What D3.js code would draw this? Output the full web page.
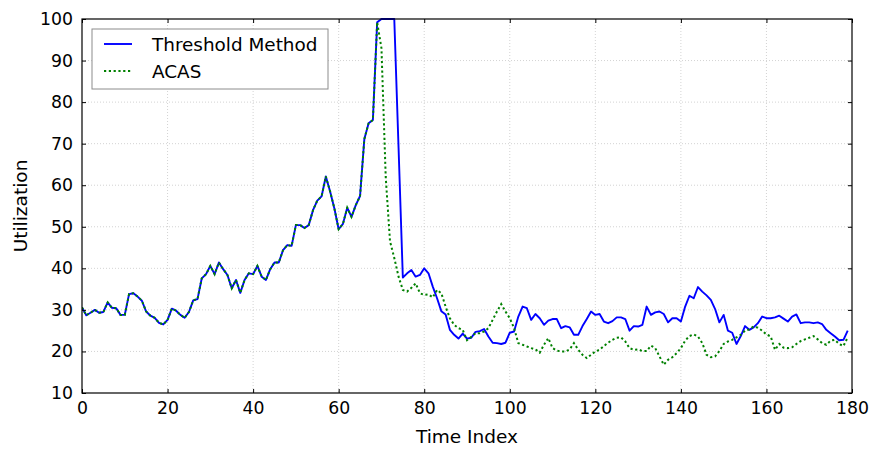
<!DOCTYPE html>
<html><head><meta charset="utf-8">
<script src="https://cdn.jsdelivr.net/npm/d3@7"></script>
<style>
body{margin:0;background:#fff}
svg{display:block}
text{font-family:"DejaVu Sans",sans-serif;fill:#000}
</style>
</head><body>
<svg id="chart" width="870" height="450"></svg>
<script>
const xTicks = [0, 20, 40, 60, 80, 100, 120, 140, 160, 180];
const yTicks = [10, 20, 30, 40, 50, 60, 70, 80, 90, 100];
const seriesNames = ["Threshold Method", "ACAS"];
const xLabel = "Time Index";
const yLabel = "Utilization";

const threshold = [
  30.6, 28.7, 29.3, 30.0, 29.3, 29.5, 31.8, 30.5, 30.4, 28.8,
  28.8, 33.8, 34.0, 33.2, 32.2, 29.6, 28.6, 28.1, 26.9, 26.5,
  27.6, 30.3, 29.8, 28.8, 28.1, 29.5, 32.3, 32.6, 37.6, 38.6,
  40.6, 38.6, 41.4, 39.8, 38.4, 35.2, 37.2, 34.1, 37.2, 38.8,
  38.6, 40.6, 38.0, 37.2, 39.8, 41.4, 41.4, 44.4, 45.6, 45.4,
  50.4, 50.4, 49.7, 50.4, 54.0, 56.3, 57.3, 62.1, 58.5, 54.4,
  49.4, 50.7, 54.6, 52.4, 55.2, 57.4, 71.1, 74.9, 75.7, 99.2,
  100, 100, 100, 100, 69.0, 37.8, 38.8, 39.6, 38.0, 38.4,
  40.0, 38.8, 35.6, 32.8, 29.7, 28.9, 25.2, 24.0, 23.1, 24.3,
  23.1, 23.3, 24.7, 24.9, 25.4, 23.6, 22.1, 22.0, 21.8, 22.1,
  24.5, 24.8, 28.4, 30.8, 30.4, 27.6, 29.0, 28.0, 26.4, 27.4,
  27.8, 27.8, 25.6, 26.1, 25.8, 24.0, 24.0, 26.1, 27.8, 29.6,
  28.8, 29.0, 27.2, 26.8, 27.3, 28.2, 28.2, 27.8, 25.0, 26.1,
  26.0, 26.4, 30.8, 28.8, 29.4, 29.6, 29.0, 27.0, 28.0, 28.0,
  27.2, 30.8, 33.4, 32.8, 35.5, 34.4, 33.5, 32.4, 30.2, 27.0,
  28.8, 25.0, 24.5, 21.8, 23.7, 26.1, 25.2, 25.8, 26.8, 28.4,
  28.0, 28.0, 28.2, 28.6, 27.9, 27.2, 28.4, 28.9, 26.8, 27.0,
  27.0, 26.8, 27.0, 26.6, 25.2, 24.4, 23.6, 22.7, 22.8, 25.0
];

const acas = [
  30.6, 28.7, 29.3, 30.0, 29.3, 29.5, 31.8, 30.5, 30.4, 28.8,
  28.8, 33.8, 34.0, 33.2, 32.2, 29.6, 28.6, 28.1, 26.9, 26.5,
  27.6, 30.3, 29.8, 28.8, 28.1, 29.5, 32.3, 32.6, 37.6, 38.6,
  40.6, 38.6, 41.4, 39.8, 38.4, 35.2, 37.2, 34.1, 37.2, 38.8,
  38.6, 40.6, 38.0, 37.2, 39.8, 41.4, 41.4, 44.4, 45.6, 45.4,
  50.4, 50.4, 49.7, 50.4, 54.0, 56.3, 57.3, 62.1, 58.5, 54.4,
  49.4, 50.7, 54.6, 52.4, 55.2, 57.4, 71.1, 74.9, 75.7, 99.2,
  93.0, 62.0, 46.5, 42.5, 38.0, 34.8, 34.4, 35.3, 36.4, 34.0,
  33.6, 33.7, 33.0, 34.8, 34.0, 30.8, 28.0, 26.4, 25.6, 25.2,
  22.7, 23.5, 24.4, 24.4, 24.8, 25.6, 27.6, 29.6, 31.4, 29.6,
  28.0, 25.6, 22.0, 21.6, 21.2, 20.8, 20.5, 19.7, 21.6, 23.2,
  20.8, 20.2, 20.0, 20.0, 20.5, 22.0, 20.4, 19.2, 18.4, 19.2,
  20.0, 20.4, 21.3, 22.1, 22.8, 23.3, 23.4, 22.4, 20.8, 20.4,
  20.5, 20.1, 20.1, 21.4, 20.8, 18.8, 16.8, 18.0, 18.6, 19.6,
  20.8, 22.6, 23.7, 24.1, 23.6, 22.0, 19.2, 18.6, 18.8, 20.1,
  21.8, 22.4, 22.8, 23.4, 24.0, 25.0, 25.3, 26.0, 25.7, 25.0,
  24.1, 23.6, 20.4, 21.8, 20.9, 20.8, 21.0, 21.8, 22.5, 22.9,
  23.3, 23.7, 22.9, 22.0, 21.6, 22.6, 22.8, 21.8, 21.3, 23.4
];

const svg = d3.select("#chart");
const L = 82, R = 852, T = 19, B = 393;
const x = d3.scaleLinear().domain([0, 180]).range([L, R]);
const y = d3.scaleLinear().domain([10, 100]).range([B, T]);

// grid
const grid = svg.append("g");
grid.selectAll("line.gx").data(xTicks.slice(1, -1)).join("line")
  .attr("x1", d => x(d)).attr("x2", d => x(d)).attr("y1", T).attr("y2", B)
  .attr("stroke", "#c8c8c8").attr("stroke-width", 0.8).attr("stroke-dasharray", "1,2");
grid.selectAll("line.gy").data(yTicks.slice(1, -1)).join("line")
  .attr("y1", d => y(d)).attr("y2", d => y(d)).attr("x1", L).attr("x2", R)
  .attr("stroke", "#c8c8c8").attr("stroke-width", 0.8).attr("stroke-dasharray", "1,2");

// clip
svg.append("clipPath").attr("id", "clip").append("rect")
  .attr("x", L).attr("y", T - 1).attr("width", R - L).attr("height", B - T + 1);

const line = d3.line().x((d, i) => x(i)).y(d => y(d));
svg.append("path").datum(threshold).attr("d", line)
  .attr("clip-path", "url(#clip)")
  .attr("fill", "none").attr("stroke", "#0000ff").attr("stroke-width", 1.9)
  .attr("stroke-linejoin", "round");
svg.append("path").datum(acas).attr("d", line)
  .attr("clip-path", "url(#clip)")
  .attr("fill", "none").attr("stroke", "#008000").attr("stroke-width", 2)
  .attr("stroke-dasharray", "2.2,2.6");

// axes
const fs = "17.3px";
const ax = svg.append("g").attr("transform", `translate(0,${B})`)
  .call(d3.axisBottom(x).tickValues(xTicks).tickSizeInner(-4).tickSizeOuter(0).tickPadding(9));
const ay = svg.append("g").attr("transform", `translate(${L},0)`)
  .call(d3.axisLeft(y).tickValues(yTicks).tickSizeInner(-4).tickSizeOuter(0).tickPadding(9));
const at = svg.append("g").attr("transform", `translate(0,${T})`)
  .call(d3.axisTop(x).tickValues(xTicks).tickSizeInner(-4).tickSizeOuter(0).tickFormat(""));
const ar = svg.append("g").attr("transform", `translate(${R},0)`)
  .call(d3.axisRight(y).tickValues(yTicks).tickSizeInner(-4).tickSizeOuter(0).tickFormat(""));
[ax, ay, at, ar].forEach(g => {
  g.select(".domain").remove();
  g.selectAll("line").attr("stroke", "#000").attr("stroke-width", 1);
  g.selectAll("text").style("font-family", '"DejaVu Sans", sans-serif').style("font-size", fs).attr("fill", "#000");
});

// frame
svg.append("rect").attr("x", L).attr("y", T).attr("width", R - L).attr("height", B - T)
  .attr("fill", "none").attr("stroke", "#000").attr("stroke-width", 1.2);

// axis labels
svg.append("text").attr("x", (L + R) / 2).attr("y", 443).attr("text-anchor", "middle")
  .style("font-size", "18.5px").text(xLabel);
svg.append("text").attr("transform", `translate(27,${(T + B) / 2}) rotate(-90)`)
  .attr("text-anchor", "middle").style("font-size", "18.5px").text(yLabel);

// legend
const lg = svg.append("g");
lg.append("rect").attr("x", 92).attr("y", 29).attr("width", 236).attr("height", 60)
  .attr("fill", "#fff").attr("stroke", "#8c8c8c").attr("stroke-width", 1);
const styles = [
  {stroke: "#0000ff", w: 1.9, dash: null},
  {stroke: "#008000", w: 2, dash: "2.2,2.6"}
];
seriesNames.forEach((name, i) => {
  const yy = 44 + i * 27;
  const l = lg.append("line").attr("x1", 104).attr("x2", 132).attr("y1", yy).attr("y2", yy)
    .attr("stroke", styles[i].stroke).attr("stroke-width", styles[i].w);
  if (styles[i].dash) l.attr("stroke-dasharray", styles[i].dash);
  lg.append("text").attr("x", 152).attr("y", yy).attr("dy", "0.36em")
    .style("font-size", "18.4px").text(name);
});
</script>
</body></html>
